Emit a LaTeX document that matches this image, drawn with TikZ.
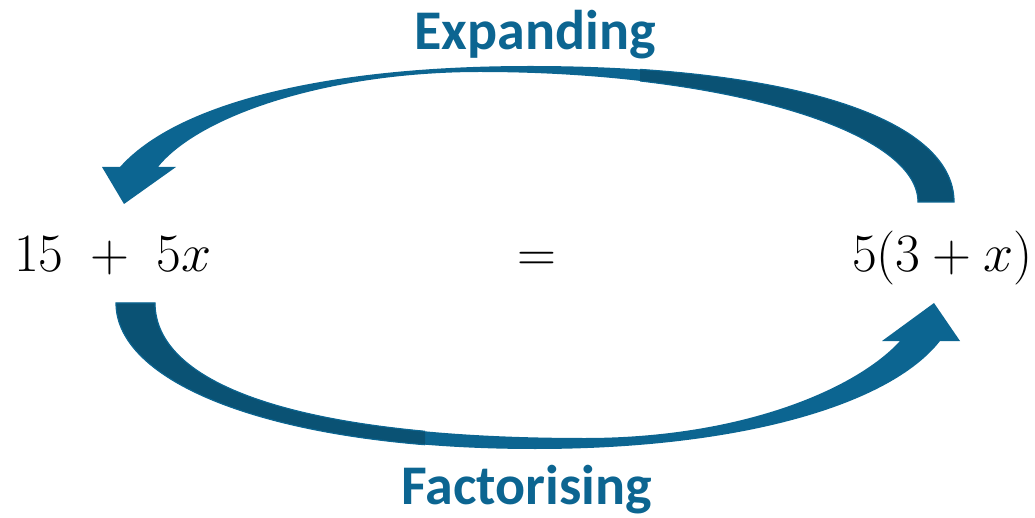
\documentclass[tikz,border=0pt]{standalone}
\usepackage{fix-cm}
\usepackage{fontspec}
\setmainfont{Carlito}
\usepackage{amsmath}
\usepackage{tikz}

\definecolor{arrowblue}{HTML}{0C6591}
\definecolor{arrowdark}{HTML}{0A5274}

\tikzset{
  expr/.style={font=\fontsize{54}{60}\selectfont, inner sep=0pt, anchor=base},
  label text/.style={font=\fontsize{56}{60}\selectfont\bfseries, text=arrowblue, inner sep=0pt, anchor=base},
  back part/.style={fill=arrowdark, draw=arrowblue, line width=1.2pt},
  front part/.style={fill=arrowblue}
}

\begin{document}
\begin{tikzpicture}[x=1pt,y=-1pt]
  \useasboundingbox (0,0) rectangle (1035,518);

  \node[expr, anchor=base west] (lhs) at (14,272) {$15\;+\;5x$};
  \node[expr] (eq) at (537,272) {$=$};
  \node[expr, anchor=base east] (rhs) at (1033,272) {$5(3+x)$};
  \node[label text] (expand) at (535,50) {Expanding};
  \node[label text] (factor) at (527,504) {Factorising};

  % expanding: from rhs back over the top to lhs
  \def\expandband{(954,202) .. controls (954,118) and (790,66) .. (530,66)
    .. controls (320,66) and (175,105) .. (120,167)
    -- (102,167) -- (124,204) -- (176,167) -- (158,167)
    .. controls (200,115) and (330,72) .. (480,72)
    .. controls (722,72) and (918,130) .. (918,202) -- cycle}
  \path[front part] \expandband;
  \begin{scope}
    \clip (640,0) rectangle (1035,260);
    \path[back part] \expandband;
  \end{scope}

  % factorising: from lhs round the bottom to rhs
  \def\factorband{(116,303) .. controls (116,385) and (280,449) .. (535,449)
    .. controls (740,449) and (890,405) .. (940,341)
    -- (960,341) -- (934,303) -- (882,341) -- (900,341)
    .. controls (855,390) and (740,438) .. (585,438)
    .. controls (300,438) and (155,385) .. (155,303) -- cycle}
  \path[front part] \factorband;
  \begin{scope}
    \clip (0,280) rectangle (425,518);
    \path[back part] \factorband;
  \end{scope}
\end{tikzpicture}
\end{document}
